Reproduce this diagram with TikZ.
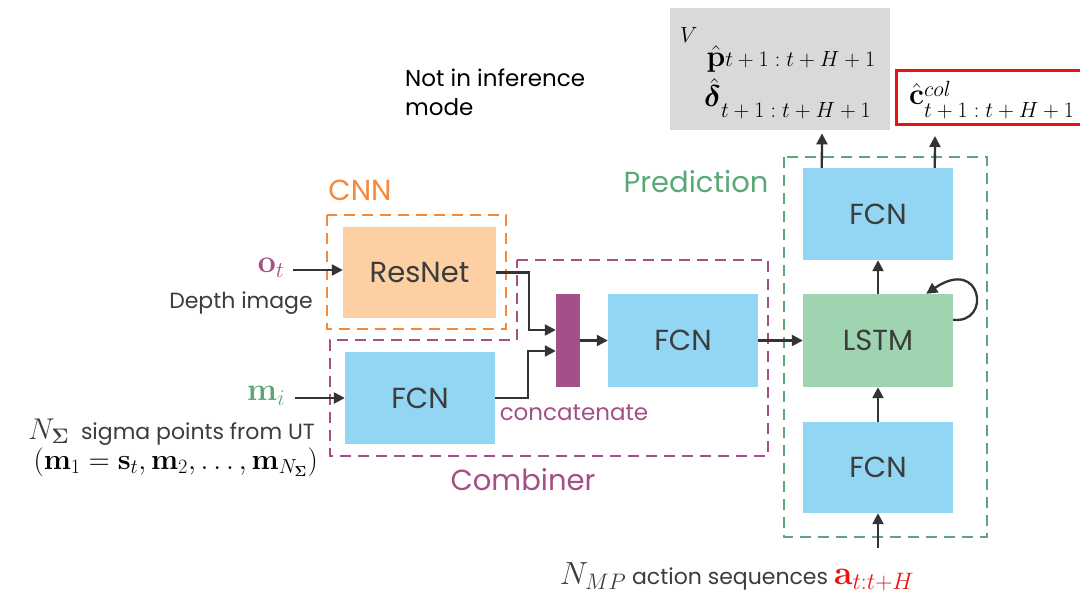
\RequirePackage{fix-cm}
\documentclass[tikz,border=0pt]{standalone}
\usepackage{amsmath,bm}
\usepackage[no-math]{fontspec}
\setmainfont{Poppins}
\usetikzlibrary{arrows.meta,calc}
\definecolor{fcnblue}{HTML}{92D6F4}
\definecolor{lstmgreen}{HTML}{9FD4B0}
\definecolor{resorange}{HTML}{FCD0A2}
\definecolor{cnnorange}{HTML}{F5883A}
\definecolor{combpurple}{HTML}{A44F88}
\definecolor{predgreen}{HTML}{5AA878}
\definecolor{txtgray}{HTML}{3C3C3C}
\definecolor{arrgray}{HTML}{333333}
\definecolor{boxgray}{HTML}{D9D9D9}
\definecolor{outred}{HTML}{EE1111}
\newcommand{\subtx}[1]{\mbox{\fontsize{22}{26}\selectfont$#1$}}
\tikzset{
 blk/.style={draw=none, minimum width=150pt, minimum height=92pt, inner sep=0pt, text=txtgray, font=\fontsize{29}{34}\selectfont},
 fcnbox/.style={blk, fill=fcnblue},
 arr/.style={-{Triangle[length=11pt,width=11pt]}, line width=2.3pt, draw=arrgray},
 dsh/.style={dash pattern=on 11pt off 7pt, line width=2.6pt},
 lbl/.style={inner sep=0pt, font=\fontsize{29}{34}\selectfont},
 smalllbl/.style={inner sep=0pt, text=txtgray, font=\fontsize{22}{26}\selectfont},
 mathlbl/.style={inner sep=0pt, font=\fontsize{30}{34}\selectfont},
 biglbl/.style={inner sep=0pt, font=\fontsize{32}{36}\selectfont}
}
\begin{document}
\begin{tikzpicture}[x=1pt,y=-1pt]
\useasboundingbox (0,0) rectangle (1080,596);
% output boxes
\node[fill=boxgray, minimum width=220pt, minimum height=122pt, inner sep=0pt, anchor=north west] (outbox) at (670,8) {};
\node[mathlbl, anchor=base west] (pout) at (680,67) {\raisebox{24pt}{\subtx{V}}\hspace{9pt}$\hat{\mathbf{p}}$\subtx{t+1:t+H+1}};
\node[mathlbl, anchor=base west] (dout) at (704,107) {$\hat{\boldsymbol{\delta}}$\raisebox{-11pt}{\subtx{t+1:t+H+1}}};
\node[draw=outred, line width=3pt, minimum width=190pt, minimum height=54pt, inner sep=0pt, anchor=north west] (colbox) at (895,69) {};
\node[mathlbl, anchor=base west] (cout) at (909,105) {$\hat{\mathbf{c}}$\rlap{\raisebox{8pt}{\subtx{col}}}\raisebox{-13pt}{\subtx{t+1:t+H+1}}};
\node[inner sep=0pt, text=black, font=\fontsize{23}{29}\selectfont, align=left, anchor=north west] (noinf) at (405,69) {Not in inference\\mode};
% blocks
\node[blk, fill=resorange, minimum width=153pt, minimum height=91pt] (resnet) at (419.5,272.5) {ResNet};
\node[fcnbox] (fcnl) at (420,398) {FCN};
\node[fill=combpurple, minimum width=24pt, minimum height=93pt, inner sep=0pt] (bar) at (568,340.5) {};
\node[fcnbox, minimum height=93pt] (fcnm) at (683,340.5) {FCN};
\node[blk, fill=lstmgreen, minimum height=93pt] (lstm) at (878,340.5) {LSTM};
\node[fcnbox] (fcnt) at (878,214) {FCN};
\node[fcnbox, minimum height=91pt] (fcnb) at (878,467.5) {FCN};
% dashed groups
\draw[dsh, cnnorange] (327,215) rectangle (506,329);
\draw[dsh, combpurple] (517,260) -- (768,260) -- (768,456) -- (330,456) -- (330,340) -- (517,340) -- cycle;
\draw[dsh, predgreen] (784,157) rectangle (987,537);
% group labels
\node[lbl, text=cnnorange] (cnnlbl) at (360,190) {CNN};
\node[lbl, text=predgreen] (predlbl) at (696,182) {Prediction};
\node[lbl, text=combpurple] (comblbl) at (523,480) {Combiner};
\node[inner sep=0pt, text=combpurple, font=\fontsize{23}{26}\selectfont] (concat) at (574,413) {concatenate};
% inputs
\node[biglbl, text=combpurple] (ot) at (271,268) {$\mathbf{o}_t$};
\node[smalllbl] (depth) at (241,303) {Depth image};
\node[biglbl, text=predgreen] (mi) at (266,396) {$\mathbf{m}_i$};
\node[smalllbl, anchor=east] (sigma) at (315,432) {\fontsize{30}{34}\selectfont$N_{\boldsymbol{\Sigma}}$\fontsize{22}{26}\selectfont\ \ sigma points from UT};
\node[mathlbl, font=\fontsize{29}{33}\selectfont, text=black, anchor=east] (mlist) at (318,462) {$(\mathbf{m}_1=\mathbf{s}_t,\mathbf{m}_2,\ldots,\mathbf{m}_{N_{\boldsymbol{\Sigma}}})$};
\node[smalllbl] (actions) at (737,577) {\fontsize{32}{36}\selectfont$N_{MP}$\fontsize{22}{26}\selectfont\ action sequences \textcolor{outred}{\fontsize{34}{38}\selectfont$\mathbf{a}_{t:t+H}$}};
\coordinate (actin) at (878,548);
% connectors
\draw[arr] (293,270) coordinate (otstart) -- (resnet.west |- otstart);
\draw[arr] (295,398) coordinate (mistart) -- (fcnl.west |- mistart);
\draw[arr] (resnet.east) -- ++(33,0) |- ($(bar.west)+(0,-10.5)$);
\draw[arr] (fcnl.east) -- ++(33,0) |- ($(bar.west)+(0,10.5)$);
\draw[arr] (bar.east) -- (fcnm.west);
\draw[arr] (fcnm.east) -- (lstm.west);
\draw[arr] (fcnb.north) -- (lstm.south);
\draw[arr] (lstm.north) -- (fcnt.south);
\draw[arr] (actin) -- (fcnb.south);
\draw[arr] ($(fcnt.north west)+(19,0)$) -- ($(outbox.south west)+(152,3)$);
\draw[arr] ($(fcnt.north west)+(132,0)$) -- ($(colbox.south west)+(40,10)$);
\draw[arr] ($(lstm.north east)+(0,26)$) .. controls (992,324) and (982,256) .. ($(lstm.north east)+(-27,0)$);
\end{tikzpicture}
\end{document}
